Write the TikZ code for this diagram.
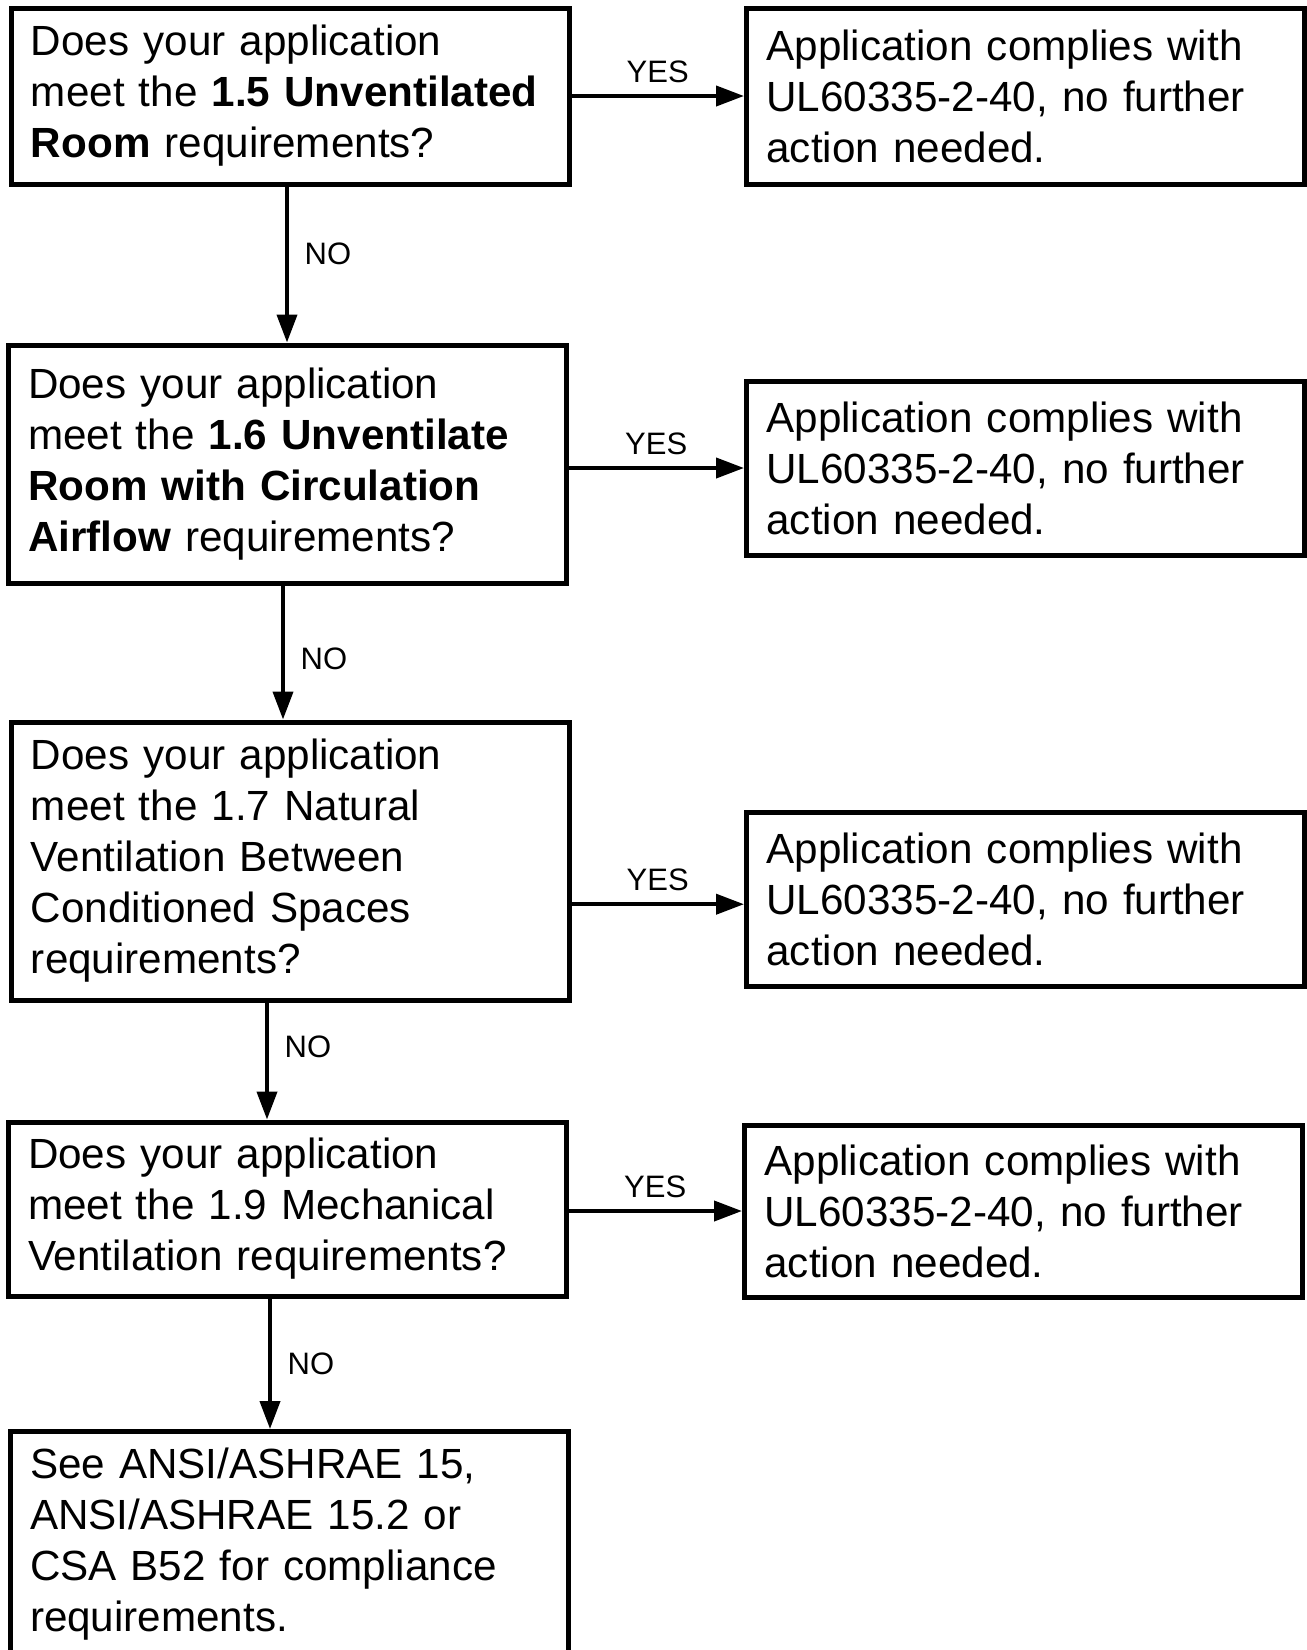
\documentclass[tikz,border=0pt]{standalone}
\usepackage{fontspec}
\setmainfont{Liberation Sans}
\usetikzlibrary{arrows.meta}

\begin{document}
\begin{tikzpicture}[x=0.5pt, y=-0.5pt, every node/.style={font=\fontsize{21.1}{25.5}\selectfont}]
  \tikzset{
    qbox/.style={draw, line width=2.5pt, minimum width=279pt, text width=259pt, inner xsep=10pt, inner ysep=0pt, align=left},
    flow/.style={line width=2pt, -{Triangle[length=14pt,width=10pt]}},
    lbl/.style={font=\fontsize{15.5}{18}\selectfont}
  }
  \useasboundingbox (0,0) rectangle (1307,1650);
  \clip (0,0) rectangle (1307,1650);

  % questions on the left
  \node[qbox, minimum height=88pt] (q1) at (290,96) {Does your application\\meet the \textbf{1.5 Unventilated}\\\textbf{Room} requirements?};
  \node[qbox, minimum height=119pt] (q2) at (287,464) {Does your application\\meet the \textbf{1.6 Unventilate}\\\textbf{Room with Circulation}\\\textbf{Airflow} requirements?};
  \node[qbox, minimum height=139pt] (q3) at (290,861) {Does your application\\meet the 1.7 Natural\\Ventilation Between\\Conditioned Spaces\\requirements?};
  \node[qbox, minimum height=87pt] (q4) at (287,1209) {Does your application\\meet the 1.9 Mechanical\\Ventilation requirements?};
  \node[qbox, minimum height=113pt, anchor=north] (q5) at (289,1429) {See ANSI/ASHRAE 15,\\ANSI/ASHRAE 15.2 or\\CSA B52 for compliance\\requirements.};

  % answers on the right
  \node[qbox, minimum height=88pt] (a1) at (1025.5,96) {Application complies with\\UL60335-2-40, no further\\action needed.};
  \node[qbox, minimum height=87pt] (a2) at (1025.5,468) {Application complies with\\UL60335-2-40, no further\\action needed.};
  \node[qbox, minimum height=87pt] (a3) at (1025.5,899) {Application complies with\\UL60335-2-40, no further\\action needed.};
  \node[qbox, minimum height=86pt] (a4) at (1023.5,1211) {Application complies with\\UL60335-2-40, no further\\action needed.};

  \foreach \i/\dy in {1/0pt, 2/0pt, 3/-2.6pt, 4/0pt} {
    \draw[flow] ([yshift=\dy]q\i.east |- a\i.west) -- node[lbl, above=2.5pt] {YES} ([yshift=\dy]a\i.west);
  }
  \foreach \i/\j/\dx/\p in {1/2/-1.5pt/0.43, 2/3/-2pt/0.545, 3/4/-11.5pt/0.38, 4/5/-8.5pt/0.5} {
    \draw[flow] ([xshift=\dx]q\i.south) -- node[lbl, pos=\p, right=4.5pt] {NO} ([xshift=\dx]q\i.south |- q\j.north);
  }
\end{tikzpicture}
\end{document}
